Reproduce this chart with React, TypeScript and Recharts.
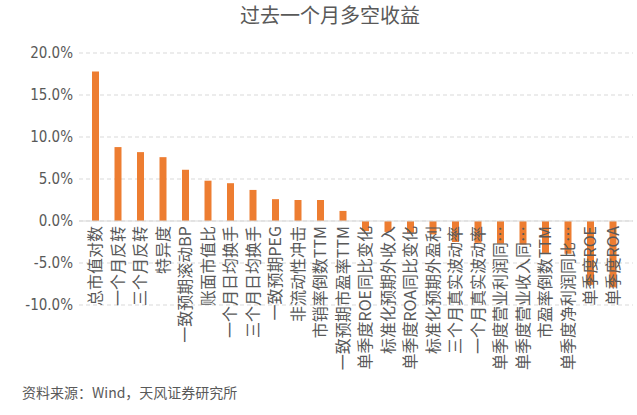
import React from "react";
import {
  BarChart,
  Bar,
  XAxis,
  YAxis,
  CartesianGrid,
  ReferenceLine,
} from "recharts";

// 因子名称（Excel 原图中过长的名称已被截断）
const factors = [
  "总市值对数",
  "一个月反转",
  "三个月反转",
  "特异度",
  "一致预期滚动BP",
  "账面市值比",
  "一个月日均换手",
  "三个月日均换手",
  "一致预期PEG",
  "非流动性冲击",
  "市销率倒数TTM",
  "一致预期市盈率TTM",
  "单季度ROE同比变化",
  "标准化预期外收入",
  "单季度ROA同比变化",
  "标准化预期外盈利",
  "三个月真实波动率",
  "一个月真实波动率",
  "单季度营业利润同…",
  "单季度营业收入同…",
  "市盈率倒数TTM",
  "单季度净利润同比…",
  "单季度ROE",
  "单季度ROA",
];

// 过去一个月多空收益（%）
const longShortReturn = [
  17.8, 8.8, 8.2, 7.6, 6.1, 4.8, 4.5, 3.7, 2.6, 2.5, 2.5, 1.2,
  -1.2, -1.3, -1.4, -1.6, -2.5, -2.6, -2.7, -2.8, -3.8, -3.9, -7.6, -7.9,
];

const yTicks = [-10, -5, 0, 5, 10, 15, 20];

const data = factors.map((name, i) => ({ name, value: longShortReturn[i] }));

const W = 637;
const H = 415;
const MARGIN = { top: 53, right: 4, bottom: 80, left: 0 };
const X_AXIS_H = 30;
const Y_MIN = -10;
const Y_MAX = 20;

const TEXT = "#595959";
const GRID = "#d9d9d9";
const ORANGE = "#ED7D31";
const CJK = '"Noto Sans CJK SC", "Noto Sans", sans-serif';
const NUM_FONT = '"Liberation Sans Narrow", "DejaVu Sans Condensed", "Noto Sans CJK SC", sans-serif';

// 类目标签画在零轴处，而不是图底部
const plotH = H - MARGIN.top - MARGIN.bottom - X_AXIS_H;
const zeroShift = (plotH * (0 - Y_MIN)) / (Y_MAX - Y_MIN);

function CategoryTick(props: any) {
  const { x, y, payload } = props;
  const ty = y - zeroShift;
  return (
    <text
      x={x}
      y={ty}
      transform={`rotate(-90, ${x}, ${ty})`}
      textAnchor="end"
      dy="0.36em"
      fill={TEXT}
      fontSize={16}
      fontFamily={CJK}
    >
      {payload.value}
    </text>
  );
}

export default function App() {
  return (
    <div
      style={{
        position: "absolute",
        left: 0,
        top: 0,
        width: W,
        height: H,
        background: "#fff",
        fontFamily: CJK,
      }}
    >
      <div
        style={{
          position: "absolute",
          left: 0,
          width: 660,
          top: 1,
          textAlign: "center",
          fontSize: 20,
          color: TEXT,
          lineHeight: "28px",
        }}
      >
        过去一个月多空收益
      </div>
      <BarChart width={W} height={H} data={data} margin={MARGIN}>
        <CartesianGrid vertical={false} stroke={GRID} strokeDasharray="4 3" />
        <XAxis
          dataKey="name"
          height={X_AXIS_H}
          axisLine={false}
          tickLine={false}
          tickSize={0}
          tickMargin={5}
          interval={0}
          padding={{ left: 5, right: 9 }}
          tick={<CategoryTick />}
        />
        <YAxis
          width={79}
          domain={[Y_MIN, Y_MAX]}
          ticks={yTicks}
          axisLine={false}
          tickLine={false}
          tickSize={0}
          tickMargin={6}
          tickFormatter={(v: number) => `${v.toFixed(1)}%`}
          tick={{ fontSize: 15, fill: TEXT, fontFamily: NUM_FONT }}
        />
        <ReferenceLine y={0} stroke={GRID} strokeWidth={1} />
        <Bar dataKey="value" fill={ORANGE} barSize={7} isAnimationActive={false} />
      </BarChart>
      <div
        style={{
          position: "absolute",
          left: 22,
          top: 382,
          fontSize: 14,
          color: TEXT,
          lineHeight: "20px",
        }}
      >
        资料来源：Wind，天风证券研究所
      </div>
    </div>
  );
}
